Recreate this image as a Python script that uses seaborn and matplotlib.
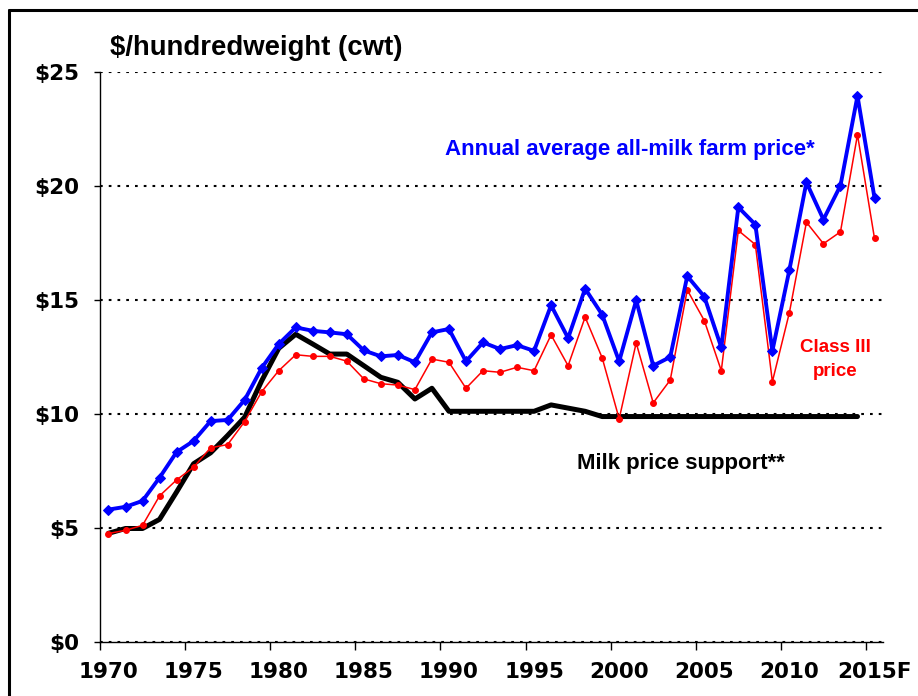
import pandas as pd
import matplotlib
matplotlib.use("Agg")
import matplotlib.pyplot as plt
import matplotlib.ticker as mticker
from matplotlib.lines import Line2D
import seaborn as sns

# data ($/cwt)
years = list(range(1970, 2016))
tick_years = [1970, 1975, 1980, 1985, 1990, 1995, 2000, 2005, 2010, 2015]
tick_labels = ["1970", "1975", "1980", "1985", "1990", "1995", "2000", "2005", "2010", "2015F"]

all_milk = [5.82, 5.94, 6.20, 7.22, 8.34, 8.83, 9.70, 9.75, 10.63, 12.03,
            13.08, 13.81, 13.66, 13.59, 13.51, 12.80, 12.54, 12.60, 12.28, 13.59,
            13.74, 12.32, 13.15, 12.86, 13.03, 12.78, 14.78, 13.34, 15.51, 14.37,
            12.32, 15.00, 12.13, 12.51, 16.06, 15.16, 12.93, 19.08, 18.32, 12.78,
            16.33, 20.17, 18.54, 20.03, 23.96, 19.49]
class_iii = [4.77, 4.91, 5.13, 6.42, 7.12, 7.68, 8.53, 8.67, 9.68, 10.99,
             11.91, 12.61, 12.54, 12.54, 12.33, 11.55, 11.34, 11.28, 11.08, 12.42,
             12.28, 11.14, 11.91, 11.84, 12.06, 11.91, 13.48, 12.13, 14.26, 12.48,
             9.80, 13.13, 10.50, 11.50, 15.45, 14.11, 11.91, 18.06, 17.44, 11.43,
             14.46, 18.42, 17.48, 18.00, 22.26, 17.71]
support_years = list(range(1970, 2015))
support = [4.78, 4.99, 4.99, 5.39, 6.59, 7.83, 8.31, 9.07, 9.87, 11.47,
           12.89, 13.51, 13.08, 12.64, 12.64, 12.13, 11.62, 11.40, 10.67, 11.14,
           10.13, 10.13, 10.13, 10.13, 10.13, 10.13, 10.41, 10.27, 10.13, 9.90,
           9.90, 9.90, 9.90, 9.90, 9.90, 9.90, 9.90, 9.90, 9.90, 9.90,
           9.90, 9.90, 9.90, 9.90, 9.90]

df = pd.DataFrame({"year": years, "all_milk": all_milk, "class_iii": class_iii})
df_sup = pd.DataFrame({"year": support_years, "support": support})

sns.set_style("white")
plt.rcParams["font.family"] = ["DejaVu Sans"]
plt.rcParams["text.color"] = "black"
plt.rcParams["xtick.color"] = "black"
plt.rcParams["ytick.color"] = "black"
plt.rcParams["xtick.labelcolor"] = "black"
plt.rcParams["ytick.labelcolor"] = "black"

fig = plt.figure(figsize=(9.18, 6.96), dpi=100)
ax = fig.add_axes([0.1089, 0.0772, 0.853, 0.819])

sns.lineplot(data=df_sup, x="year", y="support", color="black", linewidth=3.6, ax=ax)
sns.lineplot(data=df, x="year", y="class_iii", color="#ff0000", linewidth=1.1,
             marker="o", markersize=4.2, markeredgecolor="#ff0000", ax=ax)
sns.lineplot(data=df, x="year", y="all_milk", color="#0000ff", linewidth=2.8,
             marker="D", markersize=5.5, markeredgecolor="#0000ff", ax=ax)

ax.set_xlim(1969.5, 2015.5)
ax.set_ylim(0, 25)
ax.set_xlabel("")
ax.set_ylabel("")

# y axis
ax.set_yticks([0, 5, 10, 15, 20, 25])
ax.set_yticklabels(["$0", "$5", "$10", "$15", "$20", "$25"])
ax.yaxis.grid(True, color="black", linewidth=1.5, linestyle=(0, (1.3, 2.9)))
ax.xaxis.grid(False)

# x axis: tick marks between categories, labels on the years
ax.xaxis.set_major_locator(mticker.FixedLocator([y - 0.5 for y in tick_years]))
ax.xaxis.set_major_formatter(mticker.NullFormatter())
ax.xaxis.set_minor_locator(mticker.FixedLocator(tick_years))
ax.xaxis.set_minor_formatter(mticker.FixedFormatter(tick_labels))

ax.tick_params(axis="y", which="major", direction="out", length=4, width=1,
               pad=11, labelsize=15.5, left=True, colors="black")
ax.tick_params(axis="x", which="major", direction="out", length=6, width=1,
               bottom=True, colors="black")
ax.tick_params(axis="x", which="minor", length=0, pad=14, labelsize=15.5,
               labelcolor="black")
for lab in ax.get_yticklabels() + ax.get_xticklabels(minor=True):
    lab.set_fontweight("bold")
    lab.set_color("black")

for side in ["top", "right"]:
    ax.spines[side].set_visible(False)
for side in ["left", "bottom"]:
    ax.spines[side].set_color("black")
    ax.spines[side].set_linewidth(1.0)

# annotations
ax.text(2000.6, 21.6, "Annual average all-milk farm price*", color="#0000ff",
        fontsize=16, fontweight="bold", family="Liberation Sans", ha="center", va="center")
ax.text(2003.6, 7.86, "Milk price support**", color="black",
        fontsize=16, fontweight="bold", family="Liberation Sans", ha="center", va="center")
ax.text(2012.7, 12.4, "Class III\nprice", color="#ff0000", fontsize=13.5,
        fontweight="bold", family="Liberation Sans", ha="center", va="center",
        linespacing=1.6)

fig.text(110 / 918, 1 - 55 / 696, "$/hundredweight (cwt)", fontsize=19.8,
         fontweight="bold", family="Liberation Sans", ha="left", va="baseline",
         color="black")

# slide frame
fig.add_artist(Line2D([9 / 918, 9 / 918], [0, 1 - 10 / 696], color="black", linewidth=2.2))
fig.add_artist(Line2D([9 / 918, 1], [1 - 10 / 696, 1 - 10 / 696], color="black", linewidth=2.2))

fig.savefig("out.png", dpi=100)
